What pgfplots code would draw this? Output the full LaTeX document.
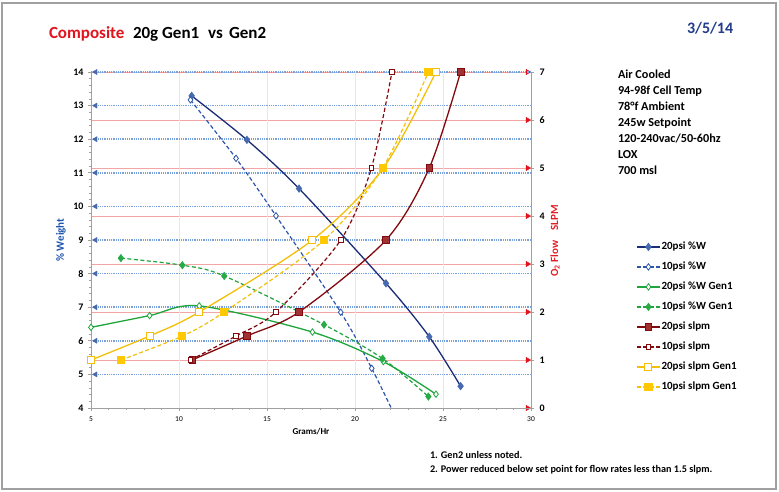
\documentclass[border=0pt]{standalone}
\usepackage{pgfplots}
\pgfplotsset{compat=1.18}
\usepackage{fontspec}
\setmainfont{Carlito}
\definecolor{gridblue}{RGB}{120,160,220}
\definecolor{gridpink}{RGB}{242,165,165}
\definecolor{vgrid}{RGB}{232,232,232}
\definecolor{navyl}{RGB}{25,45,120}
\definecolor{navym}{RGB}{70,105,175}
\definecolor{blued}{RGB}{45,85,170}
\definecolor{greenl}{RGB}{30,165,60}
\definecolor{greenm}{RGB}{40,170,70}
\definecolor{redl}{RGB}{130,10,15}
\definecolor{redm}{RGB}{160,50,50}
\definecolor{yell}{RGB}{242,192,10}
\definecolor{yelm}{RGB}{255,200,0}
\definecolor{titlered}{RGB}{225,20,30}
\definecolor{datecol}{RGB}{35,60,140}
\definecolor{axisgray}{RGB}{160,160,160}
\definecolor{labred}{RGB}{225,30,40}
\definecolor{labblue}{RGB}{30,85,175}
\definecolor{arrred}{RGB}{225,20,30}
\pgfplotsset{
  base/.style={
    scale only axis, width=440pt, height=336pt,
    at={(91pt,84pt)}, anchor=south west,
    xmin=5, xmax=30,
    /pgf/number format/assume math mode=true,
  },
  s1/.style={navyl, line width=1.3pt, mark=diamond*, mark size=3.2pt, mark options={solid, fill=navym, draw=navym}},
  s2/.style={blued, line width=1.2pt, dash pattern=on 4pt off 2.5pt, mark=diamond*, mark size=3.2pt, mark options={solid, fill=white, draw=blued, line width=0.8pt}},
  s3/.style={greenl, line width=1.3pt, mark=diamond*, mark size=3.2pt, mark options={solid, fill=white, draw=greenl, line width=0.8pt}},
  s4/.style={greenl, line width=1.2pt, dash pattern=on 4pt off 2.5pt, mark=diamond*, mark size=3.2pt, mark options={solid, fill=greenm, draw=greenm}},
  s5/.style={redl, line width=1.3pt, mark=square*, mark size=3.3pt, mark options={solid, fill=redm, draw=redl, line width=0.6pt}},
  s6/.style={redl, line width=1.2pt, dash pattern=on 4pt off 2.5pt, mark=square*, mark size=2.2pt, mark options={solid, fill=white, draw=redl, line width=0.8pt}},
  s7/.style={yell, line width=1.3pt, mark=square*, mark size=3.5pt, mark options={solid, fill=white, draw=yell, line width=0.9pt}},
  s8/.style={yell, line width=1.2pt, dash pattern=on 4pt off 2.5pt, mark=square*, mark size=3.5pt, mark options={solid, fill=yelm, draw=yelm}},
}
\begin{document}
\begin{tikzpicture}[x=1pt,y=1pt]
\useasboundingbox (0,0) rectangle (779,492);
\fill[white] (0,0) rectangle (779,492);
\draw[axisgray, line width=1.2pt] (2,3) rectangle (776,489);

% ---- right axis (O2 flow), pink grid
\begin{axis}[base, ymin=0, ymax=7, clip=false,
  axis x line=none, axis y line*=right,
  ytick={1,...,7}, extra y ticks={0}, extra y tick style={grid=none},
  ymajorgrids=true,
  major grid style={draw=gridpink, line width=0.7pt},
  y axis line style={draw=axisgray, line width=0.8pt, -},
  tick style={draw=axisgray, line width=0.6pt},
  tick align=outside, major tick length=3pt,
  yticklabel style={font=\fontsize{10}{12}\selectfont\bfseries, xshift=2pt},
]
\addplot[only marks, mark=triangle*, mark size=3pt, mark options={rotate=-90, fill=arrred, draw=arrred}]
  coordinates {(29.81,0)(29.81,1)(29.81,2)(29.81,3)(29.81,4)(29.81,5)(29.81,6)(29.81,7)};
\end{axis}

% ---- left axis (% weight), blue grid
\begin{axis}[base, ymin=4, ymax=14,
  axis x line*=bottom, axis y line*=left,
  ytick={5,...,14}, extra y ticks={4},
  xtick={10,15,20,25}, extra x ticks={5,30},
  extra tick style={grid=none},
  minor ytick={4,4.2,...,14},
  minor xtick={6,7,8,9,11,12,13,14,16,17,18,19,21,22,23,24,26,27,28,29},
  xmajorgrids=true, ymajorgrids=true,
  major x grid style={draw=vgrid, line width=0.7pt},
  major y grid style={draw=gridblue, line width=1.5pt, dash pattern=on 0.9pt off 0.9pt},
  x axis line style={draw=axisgray, line width=0.8pt, -},
  y axis line style={draw=axisgray, line width=0.8pt, -},
  tick style={draw=axisgray, line width=0.6pt},
  tick align=outside, major tick length=3pt, minor tick length=2pt,
  yticklabel style={font=\fontsize{10}{12}\selectfont\bfseries, xshift=-1pt},
  xticklabel style={font=\fontsize{7.5}{9}\selectfont, yshift=-2pt},
]
\addplot[only marks, mark=triangle*, mark size=3pt, mark options={rotate=90, fill=navym, draw=navym}]
  coordinates {(5.256,5)(5.256,6)(5.256,7)(5.256,8)(5.256,9)(5.256,10)(5.256,11)(5.256,12)(5.256,13)(5.256,14)};
% 20psi %W
\addplot[s1, smooth] coordinates {(10.72,13.29)(13.86,11.98)(16.82,10.53)(21.76,7.71)(24.22,6.12)(26.0,4.65)};
% 10psi %W
\addplot[s2, smooth, mark indices={1,2,3,4,5}] coordinates {(10.65,13.17)(13.24,11.43)(15.51,9.72)(19.19,6.85)(20.95,5.18)(22.1,3.95)};
% 20psi %W Gen1
\addplot[s3, smooth] coordinates {(5.0,6.40)(8.33,6.75)(11.15,7.04)(17.58,6.26)(21.61,5.38)(24.60,4.41)};
% 10psi %W Gen1
\addplot[s4, smooth] coordinates {(6.70,8.46)(10.19,8.25)(12.57,7.93)(18.24,6.48)(21.57,5.47)(24.17,4.34)};
\end{axis}

% ---- slpm series and legend
\begin{axis}[base, ymin=0, ymax=7, hide axis,
  legend style={draw=none, fill=none, at={(axis description cs:1.232,0.503)}, anchor=north west,
    font=\fontsize{11}{13}\selectfont\bfseries, row sep=8.5pt,
    nodes={inner sep=1pt, text height=7.5pt, text depth=2pt}},
  legend cell align=left,
  legend image code/.code={\draw[mark repeat=2,mark phase=2,#1] plot coordinates {(0pt,0pt)(11.5pt,0pt)(23pt,0pt)};},
]
\addlegendimage{s1}\addlegendentry{20psi \%W}
\addlegendimage{s2}\addlegendentry{10psi \%W}
\addlegendimage{s3}\addlegendentry{20psi \%W Gen1}
\addlegendimage{s4}\addlegendentry{10psi \%W Gen1}
% 20psi slpm
\addplot[s5, smooth] coordinates {(10.75,1.0)(13.86,1.5)(16.82,2.0)(21.76,3.5)(24.22,5.0)(26.0,7.0)};
\addlegendentry{20psi slpm}
% 10psi slpm
\addplot[s6, smooth] coordinates {(10.65,1.0)(13.24,1.5)(15.51,2.0)(19.19,3.5)(20.93,5.0)(22.1,7.0)};
\addlegendentry{10psi slpm}
% 20psi slpm Gen1
\addplot[s7, smooth] coordinates {(5.0,1.0)(8.33,1.5)(11.15,2.0)(17.58,3.5)(21.61,5.0)(24.60,7.0)};
\addlegendentry{20psi slpm Gen1}
% 10psi slpm Gen1
\addplot[s8, smooth] coordinates {(6.70,1.0)(10.19,1.5)(12.57,2.0)(18.24,3.5)(21.57,5.0)(24.17,7.0)};
\addlegendentry{10psi slpm Gen1}
\end{axis}

% ---- titles and labels
\begin{scope}[every node/.style={inner sep=0pt, outer sep=0pt}]
\node[anchor=base west, text=titlered, font=\fontsize{17}{20}\selectfont\bfseries] at (49,453) {Composite};
\node[anchor=base west, font=\fontsize{17}{20}\selectfont\bfseries] at (133,453) {20g Gen1};
\node[anchor=base west, font=\fontsize{17}{20}\selectfont\bfseries] at (208,453) {vs};
\node[anchor=base west, font=\fontsize{17}{20}\selectfont\bfseries] at (229,453) {Gen2};
\node[anchor=base west, text=datecol, font=\fontsize{16}{19}\selectfont\bfseries] at (687,458) {3/5/14};
\node[rotate=90, text=labblue, font=\fontsize{11}{13}\selectfont\bfseries] at (61,252) {\% Weight};
\node[rotate=90, text=labred, font=\fontsize{11}{13}\selectfont\bfseries] at (555,251) {O\textsubscript{2} Flow\hspace{10pt}SLPM};
\node[font=\fontsize{9}{11}\selectfont\bfseries] at (311,60) {Grams/Hr};
\begin{scope}[every node/.append style={anchor=base west, font=\fontsize{12.2}{15}\selectfont\bfseries}]
\node at (618,413) {Air Cooled};
\node at (618,397) {94-98f Cell Temp};
\node at (618,381) {78°f Ambient};
\node at (618,365) {245w Setpoint};
\node at (618,349) {120-240vac/50-60hz};
\node at (618,333) {LOX};
\node at (618,317.5) {700 msl};
\end{scope}
\node[anchor=base west, font=\fontsize{10.2}{12}\selectfont\bfseries] at (430,33.5) {1. Gen2 unless noted.};
\node[anchor=base west, font=\fontsize{10.2}{12}\selectfont\bfseries] at (430,19.5) {2. Power reduced below set point for flow rates less than 1.5 slpm.};
\end{scope}
\end{tikzpicture}
\end{document}
